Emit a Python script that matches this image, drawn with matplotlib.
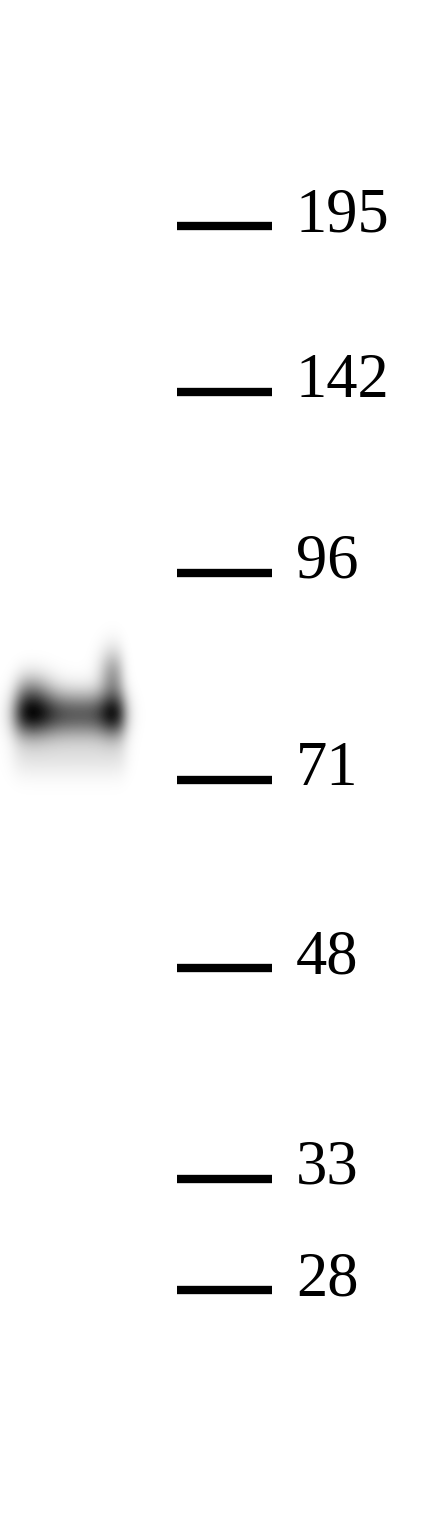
import numpy as np
import matplotlib.pyplot as plt

# 分子量标记（kDa）及其在胶图上的行位置（像素）
marker_kda = [195, 142, 96, 71, 48, 33, 28]
marker_row = [226, 392, 573, 780, 968, 1179, 1290]

# 样品条带：泳道左右边界、条带中心行、左右两端的最深处
lane_left, lane_right = 14, 125
band_row = 714
edge_dark = [0.92, 0.90]      # 左端、右端的最深灰度
middle_dark = 0.62            # 条带中部灰度

W, H = 427, 1520
fig = plt.figure(figsize=(W / 100, H / 100), dpi=100)
ax = fig.add_axes([0, 0, 1, 1])
ax.set_xlim(0, W)
ax.set_ylim(H, 0)
ax.axis('off')

# 条带图像（模糊的“哑铃”形状）
xs = np.arange(0, 150)
ys = np.arange(620, 800)
X, Y = np.meshgrid(xs, ys)
# 横向：两端深、中间浅
left_lobe = np.exp(-((X - 30) / 22.0) ** 2)
right_lobe = np.exp(-((X - 113) / 14.0) ** 2)
inside = 1 / (1 + np.exp(-(X - lane_left) / 5.0)) * 1 / (1 + np.exp((X - lane_right) / 4.0))
horiz = middle_dark + (edge_dark[0] - middle_dark) * left_lobe + (edge_dark[1] - middle_dark) * right_lobe
# 纵向：主条带 + 两端上翘 + 下方拖尾
main = np.exp(-((Y - band_row) / 23.0) ** 2)
up_l = 0.25 * np.exp(-((Y - 690) / 20.0) ** 2) * left_lobe
up_r = 0.35 * np.exp(-((Y - 675) / 26.0) ** 2) * right_lobe
tail = 0.10 * np.exp(-((Y - 755) / 22.0) ** 2)
img = inside * np.clip(horiz * main + up_l + up_r + tail, 0, 1)
ax.imshow(img, cmap='gray_r', vmin=0, vmax=1, extent=[0, 150, 800, 620],
          interpolation='bilinear', aspect='auto', zorder=1)

# 分子量标记线与数字
for kda, row in zip(marker_kda, marker_row):
    ax.plot([177, 272], [row, row], color='black', linewidth=6, solid_capstyle='butt', zorder=2)
    ax.text(296, row + 5, str(kda), fontsize=45, family='Liberation Serif',
            ha='left', va='baseline', color='black')

fig.savefig('out.png', dpi=100)
plt.close(fig)
